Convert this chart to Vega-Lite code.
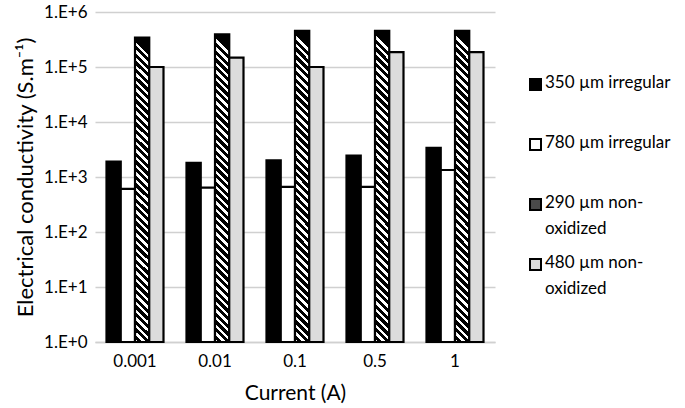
{
  "$schema": "https://vega.github.io/schema/vega-lite/v6.json",
  "width": 400,
  "height": 330,
  "autosize": {"type": "none"},
  "padding": {"left": 95, "top": 12, "right": 190, "bottom": 66},
  "background": "white",
  "config": {
    "font": "Lato",
    "view": {"stroke": null}
  },
  "data": {
    "values": [
      {"c": "0.001", "s": "350 µm irregular", "v": 1900},
      {"c": "0.001", "s": "780 µm irregular", "v": 610},
      {"c": "0.001", "s": "290 µm non-oxidized", "v": 343000},
      {"c": "0.001", "s": "480 µm non-oxidized", "v": 100000},
      {"c": "0.01", "s": "350 µm irregular", "v": 1800},
      {"c": "0.01", "s": "780 µm irregular", "v": 640},
      {"c": "0.01", "s": "290 µm non-oxidized", "v": 393000},
      {"c": "0.01", "s": "480 µm non-oxidized", "v": 148000},
      {"c": "0.1", "s": "350 µm irregular", "v": 2000},
      {"c": "0.1", "s": "780 µm irregular", "v": 660},
      {"c": "0.1", "s": "290 µm non-oxidized", "v": 452000},
      {"c": "0.1", "s": "480 µm non-oxidized", "v": 100000},
      {"c": "0.5", "s": "350 µm irregular", "v": 2440},
      {"c": "0.5", "s": "780 µm irregular", "v": 660},
      {"c": "0.5", "s": "290 µm non-oxidized", "v": 452000},
      {"c": "0.5", "s": "480 µm non-oxidized", "v": 187000},
      {"c": "1", "s": "350 µm irregular", "v": 3400},
      {"c": "1", "s": "780 µm irregular", "v": 1340},
      {"c": "1", "s": "290 µm non-oxidized", "v": 452000},
      {"c": "1", "s": "480 µm non-oxidized", "v": 187000}
    ]
  },
  "mark": {"type": "bar", "stroke": "#000000", "strokeWidth": 2.2, "strokeJoin": "miter"},
  "encoding": {
    "x": {
      "field": "c",
      "type": "nominal",
      "sort": null,
      "scale": {"paddingInner": 0.2875, "paddingOuter": 0.14375},
      "axis": {
        "title": "Current (A)",
        "titleFont": "Lato",
        "titleFontSize": 21,
        "titleFontWeight": "normal",
        "titleColor": "#000000",
        "titlePadding": 13,
        "labelAngle": 0,
        "labelFont": "Lato",
        "labelFontSize": 17,
        "labelColor": "#000000",
        "labelPadding": 11,
        "ticks": false,
        "domainColor": "#d0d0d0",
        "domainWidth": 1.5,
        "grid": false
      }
    },
    "xOffset": {
      "field": "s",
      "type": "nominal",
      "sort": ["350 µm irregular", "780 µm irregular", "290 µm non-oxidized", "480 µm non-oxidized"],
      "scale": {"paddingInner": 0, "paddingOuter": 0}
    },
    "y": {
      "field": "v",
      "type": "quantitative",
      "scale": {"type": "log", "domain": [1, 1000000], "nice": false},
      "axis": {
        "title": "Electrical conductivity (S.m⁻¹)",
        "titleFont": "Lato",
        "titleFontSize": 22,
        "titleFontWeight": "normal",
        "titleColor": "#000000",
        "titlePadding": 6,
        "values": [1, 10, 100, 1000, 10000, 100000, 1000000],
        "labelExpr": "'1.E+' + round(log(datum.value) / LN10)",
        "labelFont": "Lato",
        "labelFontSize": 17,
        "labelColor": "#000000",
        "labelPadding": 8,
        "ticks": false,
        "domain": false,
        "grid": true,
        "gridColor": "#d0d0d0",
        "gridWidth": 1.5
      }
    },
    "y2": {"datum": 1},
    "fill": {
      "condition": {
        "test": "datum.s === '290 µm non-oxidized'",
        "value": {
          "gradient": "linear",
          "x1": 0.0463, "y1": 0, "x2": 0, "y2": 1,
          "stops": [
            {"offset": 0, "color": "#000"}, {"offset": 0.014, "color": "#000"}, {"offset": 0.014, "color": "#fff"}, {"offset": 0.025, "color": "#fff"},
            {"offset": 0.025, "color": "#000"}, {"offset": 0.039, "color": "#000"}, {"offset": 0.039, "color": "#fff"}, {"offset": 0.05, "color": "#fff"},
            {"offset": 0.05, "color": "#000"}, {"offset": 0.064, "color": "#000"}, {"offset": 0.064, "color": "#fff"}, {"offset": 0.075, "color": "#fff"},
            {"offset": 0.075, "color": "#000"}, {"offset": 0.089, "color": "#000"}, {"offset": 0.089, "color": "#fff"}, {"offset": 0.1, "color": "#fff"},
            {"offset": 0.1, "color": "#000"}, {"offset": 0.114, "color": "#000"}, {"offset": 0.114, "color": "#fff"}, {"offset": 0.125, "color": "#fff"},
            {"offset": 0.125, "color": "#000"}, {"offset": 0.139, "color": "#000"}, {"offset": 0.139, "color": "#fff"}, {"offset": 0.15, "color": "#fff"},
            {"offset": 0.15, "color": "#000"}, {"offset": 0.164, "color": "#000"}, {"offset": 0.164, "color": "#fff"}, {"offset": 0.175, "color": "#fff"},
            {"offset": 0.175, "color": "#000"}, {"offset": 0.189, "color": "#000"}, {"offset": 0.189, "color": "#fff"}, {"offset": 0.2, "color": "#fff"},
            {"offset": 0.2, "color": "#000"}, {"offset": 0.214, "color": "#000"}, {"offset": 0.214, "color": "#fff"}, {"offset": 0.225, "color": "#fff"},
            {"offset": 0.225, "color": "#000"}, {"offset": 0.239, "color": "#000"}, {"offset": 0.239, "color": "#fff"}, {"offset": 0.25, "color": "#fff"},
            {"offset": 0.25, "color": "#000"}, {"offset": 0.264, "color": "#000"}, {"offset": 0.264, "color": "#fff"}, {"offset": 0.275, "color": "#fff"},
            {"offset": 0.275, "color": "#000"}, {"offset": 0.289, "color": "#000"}, {"offset": 0.289, "color": "#fff"}, {"offset": 0.3, "color": "#fff"},
            {"offset": 0.3, "color": "#000"}, {"offset": 0.314, "color": "#000"}, {"offset": 0.314, "color": "#fff"}, {"offset": 0.325, "color": "#fff"},
            {"offset": 0.325, "color": "#000"}, {"offset": 0.339, "color": "#000"}, {"offset": 0.339, "color": "#fff"}, {"offset": 0.35, "color": "#fff"},
            {"offset": 0.35, "color": "#000"}, {"offset": 0.364, "color": "#000"}, {"offset": 0.364, "color": "#fff"}, {"offset": 0.375, "color": "#fff"},
            {"offset": 0.375, "color": "#000"}, {"offset": 0.389, "color": "#000"}, {"offset": 0.389, "color": "#fff"}, {"offset": 0.4, "color": "#fff"},
            {"offset": 0.4, "color": "#000"}, {"offset": 0.414, "color": "#000"}, {"offset": 0.414, "color": "#fff"}, {"offset": 0.425, "color": "#fff"},
            {"offset": 0.425, "color": "#000"}, {"offset": 0.439, "color": "#000"}, {"offset": 0.439, "color": "#fff"}, {"offset": 0.45, "color": "#fff"},
            {"offset": 0.45, "color": "#000"}, {"offset": 0.464, "color": "#000"}, {"offset": 0.464, "color": "#fff"}, {"offset": 0.475, "color": "#fff"},
            {"offset": 0.475, "color": "#000"}, {"offset": 0.489, "color": "#000"}, {"offset": 0.489, "color": "#fff"}, {"offset": 0.5, "color": "#fff"},
            {"offset": 0.5, "color": "#000"}, {"offset": 0.514, "color": "#000"}, {"offset": 0.514, "color": "#fff"}, {"offset": 0.525, "color": "#fff"},
            {"offset": 0.525, "color": "#000"}, {"offset": 0.539, "color": "#000"}, {"offset": 0.539, "color": "#fff"}, {"offset": 0.55, "color": "#fff"},
            {"offset": 0.55, "color": "#000"}, {"offset": 0.564, "color": "#000"}, {"offset": 0.564, "color": "#fff"}, {"offset": 0.575, "color": "#fff"},
            {"offset": 0.575, "color": "#000"}, {"offset": 0.589, "color": "#000"}, {"offset": 0.589, "color": "#fff"}, {"offset": 0.6, "color": "#fff"},
            {"offset": 0.6, "color": "#000"}, {"offset": 0.614, "color": "#000"}, {"offset": 0.614, "color": "#fff"}, {"offset": 0.625, "color": "#fff"},
            {"offset": 0.625, "color": "#000"}, {"offset": 0.639, "color": "#000"}, {"offset": 0.639, "color": "#fff"}, {"offset": 0.65, "color": "#fff"},
            {"offset": 0.65, "color": "#000"}, {"offset": 0.664, "color": "#000"}, {"offset": 0.664, "color": "#fff"}, {"offset": 0.675, "color": "#fff"},
            {"offset": 0.675, "color": "#000"}, {"offset": 0.689, "color": "#000"}, {"offset": 0.689, "color": "#fff"}, {"offset": 0.7, "color": "#fff"},
            {"offset": 0.7, "color": "#000"}, {"offset": 0.714, "color": "#000"}, {"offset": 0.714, "color": "#fff"}, {"offset": 0.725, "color": "#fff"},
            {"offset": 0.725, "color": "#000"}, {"offset": 0.739, "color": "#000"}, {"offset": 0.739, "color": "#fff"}, {"offset": 0.75, "color": "#fff"},
            {"offset": 0.75, "color": "#000"}, {"offset": 0.764, "color": "#000"}, {"offset": 0.764, "color": "#fff"}, {"offset": 0.775, "color": "#fff"},
            {"offset": 0.775, "color": "#000"}, {"offset": 0.789, "color": "#000"}, {"offset": 0.789, "color": "#fff"}, {"offset": 0.8, "color": "#fff"},
            {"offset": 0.8, "color": "#000"}, {"offset": 0.814, "color": "#000"}, {"offset": 0.814, "color": "#fff"}, {"offset": 0.825, "color": "#fff"},
            {"offset": 0.825, "color": "#000"}, {"offset": 0.839, "color": "#000"}, {"offset": 0.839, "color": "#fff"}, {"offset": 0.85, "color": "#fff"},
            {"offset": 0.85, "color": "#000"}, {"offset": 0.864, "color": "#000"}, {"offset": 0.864, "color": "#fff"}, {"offset": 0.875, "color": "#fff"},
            {"offset": 0.875, "color": "#000"}, {"offset": 0.889, "color": "#000"}, {"offset": 0.889, "color": "#fff"}, {"offset": 0.9, "color": "#fff"},
            {"offset": 0.9, "color": "#000"}, {"offset": 0.914, "color": "#000"}, {"offset": 0.914, "color": "#fff"}, {"offset": 0.925, "color": "#fff"},
            {"offset": 0.925, "color": "#000"}, {"offset": 0.939, "color": "#000"}, {"offset": 0.939, "color": "#fff"}, {"offset": 0.95, "color": "#fff"},
            {"offset": 0.95, "color": "#000"}, {"offset": 0.964, "color": "#000"}, {"offset": 0.964, "color": "#fff"}, {"offset": 0.975, "color": "#fff"},
            {"offset": 0.975, "color": "#000"}, {"offset": 0.989, "color": "#000"}, {"offset": 0.989, "color": "#fff"}, {"offset": 1, "color": "#fff"}
          ]
        }
      },
      "field": "s",
      "type": "nominal",
      "sort": ["350 µm irregular", "780 µm irregular", "290 µm non-oxidized", "480 µm non-oxidized"],
      "scale": {"range": ["#000000", "#ffffff", "#4a4a4a", "#dcdcdc"]},
      "legend": {
        "title": null,
        "orient": "none",
        "legendX": 432,
        "legendY": 64,
        "symbolType": "square",
        "symbolSize": 121,
        "symbolStrokeColor": "#000000",
        "symbolStrokeWidth": 2,
        "labelFont": "Lato",
        "labelFontSize": 17,
        "labelColor": "#000000",
        "labelOffset": 1,
        "labelLimit": 200,
        "rowPadding": 16,
        "labelBaseline": "top",
        "labelExpr": "indexof(datum.label, 'non-') >= 0 ? [substring(datum.label, 0, indexof(datum.label, 'non-') + 4), 'oxidized'] : [datum.label, ' ']",
        "encode": {
          "labels": {"update": {"dy": {"value": -10}, "lineHeight": {"value": 26}}}
        }
      }
    }
  }
}
